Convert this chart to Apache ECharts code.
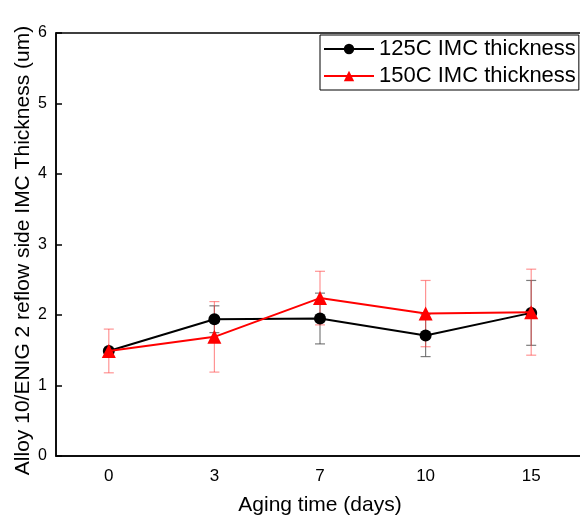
<!DOCTYPE html>
<html><head><meta charset="utf-8">
<script src="https://cdn.jsdelivr.net/npm/echarts@6/dist/echarts.min.js"></script>
<style>html,body{margin:0;padding:0;background:#fff}#c{width:580px;height:520px}</style>
</head><body><div id="c"></div>
<script>
const categories = ['0', '3', '7', '10', '15'];
const s125 = [1.49, 1.94, 1.95, 1.71, 2.03];
const s125Err = [0.03, 0.19, 0.36, 0.30, 0.46];
const s150 = [1.49, 1.69, 2.24, 2.02, 2.04];
const s150Err = [0.31, 0.50, 0.38, 0.47, 0.61];
const yTicks = [0, 1, 2, 3, 4, 5, 6];

const font = 'Arial, "Liberation Sans", sans-serif';
function errSeries(vals, errs, color) {
  return {
    type: 'custom', silent: true, z: 1,
    data: vals.map((v, i) => [i, v - errs[i], v + errs[i]]),
    renderItem: function (params, api) {
      const lo = api.coord([api.value(0), api.value(1)]);
      const hi = api.coord([api.value(0), api.value(2)]);
      const w = 5;
      const st = { stroke: color, lineWidth: 1.2 };
      return { type: 'group', children: [
        { type: 'line', shape: { x1: lo[0], y1: lo[1], x2: hi[0], y2: hi[1] }, style: st },
        { type: 'line', shape: { x1: lo[0] - w, y1: lo[1], x2: lo[0] + w, y2: lo[1] }, style: st },
        { type: 'line', shape: { x1: hi[0] - w, y1: hi[1], x2: hi[0] + w, y2: hi[1] }, style: st }
      ]};
    }
  };
}
const chart = echarts.init(document.getElementById('c'));
chart.setOption({
  animation: false,
  textStyle: { fontFamily: font },
  grid: { left: 56, right: -4, top: 33, bottom: 64, containLabel: false, outerBoundsMode: 'none',
          show: true, borderColor: '#000', borderWidth: 1.5 },
  legend: {
    data: ['125C IMC thickness', '150C IMC thickness'],
    orient: 'vertical', left: 320, top: 35,
    borderColor: '#000', borderWidth: 1, padding: [3, 3, 3, 3],
    itemWidth: 50, itemHeight: 13, itemGap: 5,
    textStyle: { fontSize: 22, color: '#000', fontFamily: font }
  },
  xAxis: {
    type: 'category', data: categories, boundaryGap: true,
    name: 'Aging time (days)', nameLocation: 'middle', nameGap: 39,
    nameTextStyle: { fontSize: 21, color: '#000' },
    axisLine: { lineStyle: { color: '#000', width: 1.5 } },
    axisTick: { alignWithLabel: true, inside: true, length: 6, lineStyle: { color: '#000', width: 1.5 } },
    axisLabel: { fontSize: 17, color: '#000', margin: 12 }
  },
  yAxis: {
    type: 'value', min: 0, max: 6, interval: 1,
    name: 'Alloy 10/ENIG 2 reflow side IMC Thickness (um)', nameLocation: 'middle', nameGap: 22,
    nameMoveOverlap: false,
    nameTextStyle: { fontSize: 21, color: '#000', padding: [0, 12, 0, 0] },
    axisLine: { show: true, lineStyle: { color: '#000', width: 1.5 } },
    axisTick: { show: true, inside: true, length: 6, lineStyle: { color: '#000', width: 1.5 } },
    axisLabel: { fontSize: 16, color: '#000', margin: 9, formatter: v => yTicks.includes(v) ? String(v) : '' },
    splitLine: { show: false }
  },
  series: [
    errSeries(s125, s125Err, 'rgba(80,80,80,0.75)'),
    errSeries(s150, s150Err, 'rgba(255,60,60,0.55)'),
    { name: '125C IMC thickness', type: 'line', data: s125, z: 3,
      symbol: 'circle', symbolSize: 12,
      lineStyle: { color: '#000', width: 2 }, itemStyle: { color: '#000' } },
    { name: '150C IMC thickness', type: 'line', data: s150, z: 4,
      symbol: 'triangle', symbolSize: 14,
      lineStyle: { color: '#ff0000', width: 2 }, itemStyle: { color: '#ff0000' } }
  ]
});
</script></body></html>
